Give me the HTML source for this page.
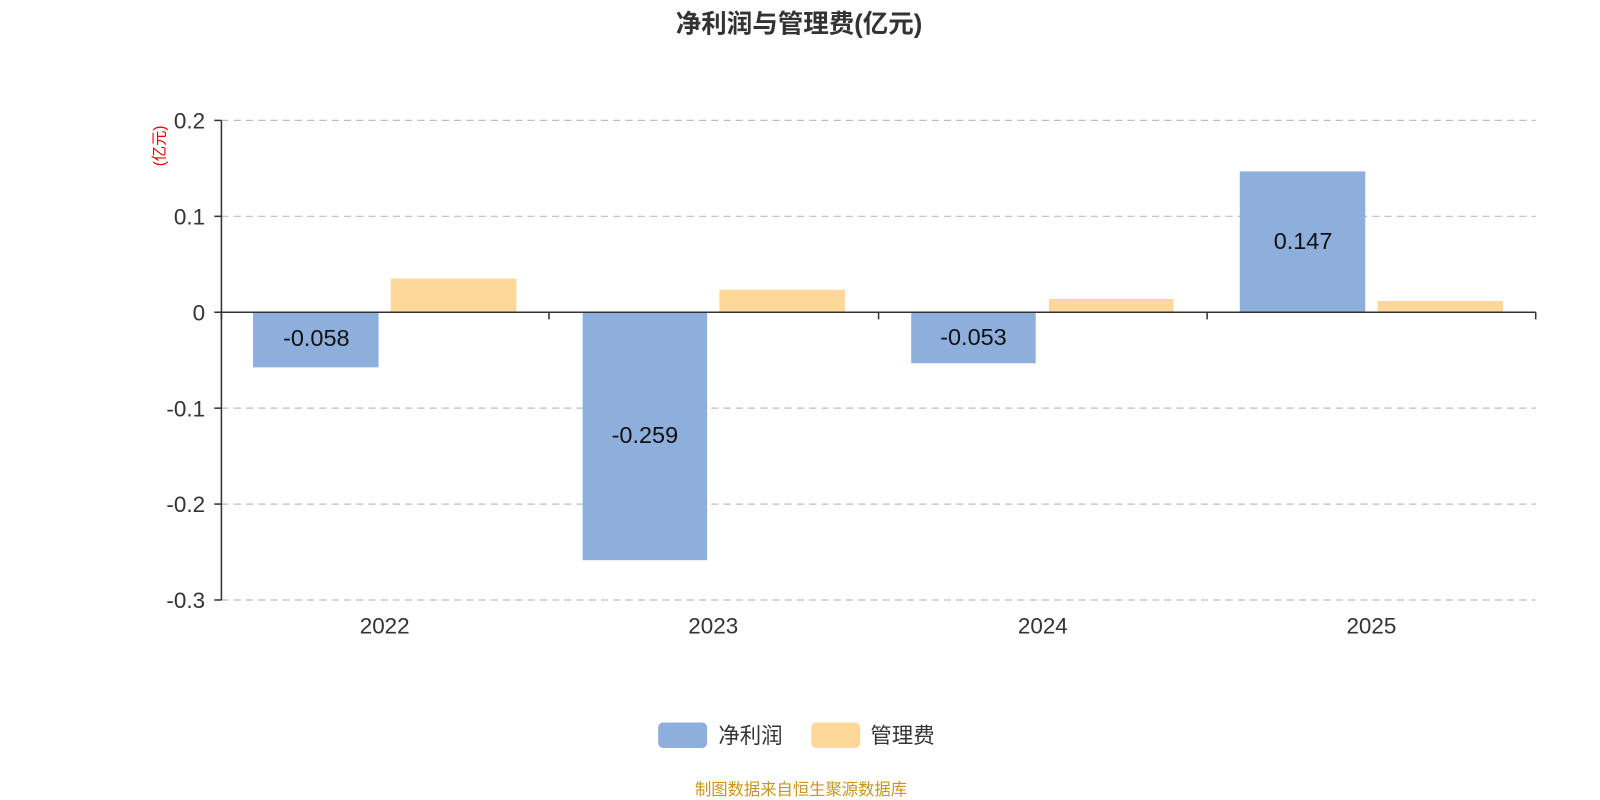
<!DOCTYPE html>
<html><head><meta charset="utf-8"><style>
html,body{margin:0;padding:0;background:#fff;overflow:hidden;}
svg{display:block;}
svg text{font-family:"Liberation Sans","Noto Sans CJK SC",sans-serif;}
</style></head><body>
<svg width="1600" height="800" xmlns="http://www.w3.org/2000/svg">
<rect width="1600" height="800" fill="#fff"/>
<g transform="scale(1.0204)">
<text x="783" y="32" font-size="25" font-weight="bold" fill="#333" text-anchor="middle">净利润与管理费(亿元)</text>
<g stroke="#bdbdbd" stroke-width="1.2" stroke-dasharray="7,5">
<line x1="217" y1="118" x2="1505" y2="118"/>
<line x1="217" y1="212" x2="1505" y2="212"/>
<line x1="217" y1="400" x2="1505" y2="400"/>
<line x1="217" y1="494" x2="1505" y2="494"/>
<line x1="217" y1="588" x2="1505" y2="588"/>
</g>
<g fill="#8eaedb">
<rect x="248" y="306" width="123" height="54"/>
<rect x="571" y="306" width="122" height="243"/>
<rect x="893" y="306" width="122" height="50"/>
<rect x="1215" y="168" width="123" height="138"/>
</g>
<g fill="#fdd899">
<rect x="383" y="273" width="123" height="33"/>
<rect x="705" y="284" width="123" height="22"/>
<rect x="1028" y="293" width="122" height="13"/>
<rect x="1350" y="295" width="123" height="11"/>
</g>
<g stroke="#333" stroke-width="1.5">
<line x1="217" y1="118" x2="217" y2="588"/>
<line x1="210" y1="118" x2="217" y2="118"/>
<line x1="210" y1="212" x2="217" y2="212"/>
<line x1="210" y1="306" x2="217" y2="306"/>
<line x1="210" y1="400" x2="217" y2="400"/>
<line x1="210" y1="494" x2="217" y2="494"/>
<line x1="210" y1="588" x2="217" y2="588"/>
<line x1="217" y1="306" x2="1505" y2="306"/>
<line x1="217" y1="306" x2="217" y2="313"/>
<line x1="538" y1="306" x2="538" y2="313"/>
<line x1="861" y1="306" x2="861" y2="313"/>
<line x1="1183" y1="306" x2="1183" y2="313"/>
<line x1="1505" y1="306" x2="1505" y2="313"/>
</g>
<g font-size="22" fill="#333" text-anchor="end">
<text x="201" y="126">0.2</text>
<text x="201" y="220">0.1</text>
<text x="201" y="314">0</text>
<text x="201" y="408">-0.1</text>
<text x="201" y="502">-0.2</text>
<text x="201" y="596">-0.3</text>
</g>
<text transform="translate(161,143) rotate(-90)" font-size="15" fill="#e00" text-anchor="middle">(亿元)</text>
<g font-size="22" fill="#333" text-anchor="middle">
<text x="377" y="621">2022</text>
<text x="699" y="621">2023</text>
<text x="1022" y="621">2024</text>
<text x="1344" y="621">2025</text>
</g>
<g font-size="23" fill="#111" text-anchor="middle">
<text x="310" y="339">-0.058</text>
<text x="632" y="434">-0.259</text>
<text x="954" y="338">-0.053</text>
<text x="1277" y="244">0.147</text>
</g>
<rect x="645" y="708" width="48" height="25" rx="5" fill="#8eaedb"/>
<text x="704" y="728" font-size="21" fill="#333">净利润</text>
<rect x="795" y="708" width="48" height="25" rx="5" fill="#fdd899"/>
<text x="853" y="728" font-size="21" fill="#333">管理费</text>
<text x="785" y="779" font-size="16" fill="#c8961e" text-anchor="middle">制图数据来自恒生聚源数据库</text>
</g>
</svg>
</body></html>
